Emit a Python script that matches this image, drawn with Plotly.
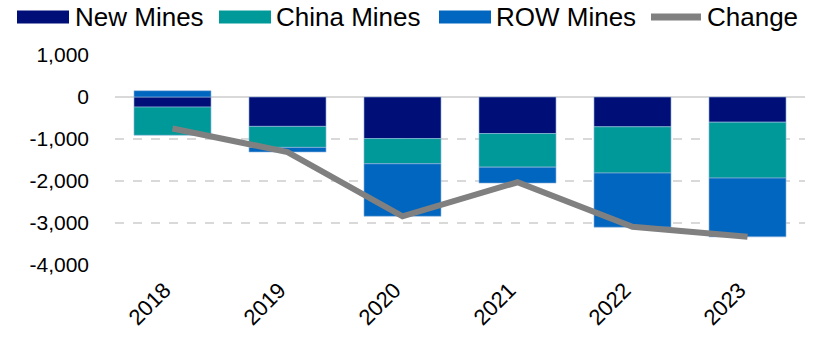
import plotly.graph_objects as go

years = ["2018", "2019", "2020", "2021", "2022", "2023"]
new_mines = [-240, -700, -990, -870, -710, -600]
china_mines = [-670, -500, -600, -800, -1100, -1330]
row_mines = [150, -110, -1250, -380, -1290, -1400]
change = [-750, -1310, -2840, -2030, -3090, -3330]

y_tickvals = [-4000, -3000, -2000, -1000, 0, 1000]
y_ticktext = ["-4,000", "-3,000", "-2,000", "-1,000", "0", "1,000"]

series_names = ["New Mines", "China Mines", "ROW Mines", "Change"]
colors = ["#000F78", "#009999", "#0066BF", "#808080"]

W, H = 815, 343
L, T = 115, 55
R = W - 805
B = H - 264.7
pw, ph = W - L - R, H - T - B

fig = go.Figure()
for name, vals, col in zip(series_names[:3], [new_mines, china_mines, row_mines], colors[:3]):
    fig.add_trace(go.Bar(x=years, y=vals, name=name, marker=dict(color=col, line=dict(color="#9ab8de", width=0.6)),
                         showlegend=False))
fig.add_trace(go.Scatter(x=years, y=change, name="Change", mode="lines",
                         line=dict(color=colors[3], width=6), showlegend=False))

def px_x(px):
    return (px - L) / pw

def px_y(py):
    return (H - B - py) / ph

shapes = []
annotations = []
legend_items = [(17, 75), (219, 276), (439, 496), (648, 707)]
for i, (sx, tx) in enumerate(legend_items):
    if i < 3:
        shapes.append(dict(type="rect", xref="paper", yref="paper",
                           x0=px_x(sx), x1=px_x(sx + 52), y0=px_y(23.5), y1=px_y(10.5),
                           fillcolor=colors[i], line=dict(width=0)))
    else:
        shapes.append(dict(type="line", xref="paper", yref="paper",
                           x0=px_x(sx + 3), x1=px_x(sx + 53), y0=px_y(17), y1=px_y(17),
                           line=dict(color=colors[i], width=7)))
    annotations.append(dict(text=series_names[i], xref="paper", yref="paper",
                            x=px_x(tx), y=px_y(17.5), xanchor="left", yanchor="middle",
                            showarrow=False, xshift=-2,
                            font=dict(size=26, color="#000000", family="Liberation Sans, Arial, sans-serif")))

fig.update_layout(
    width=W, height=H,
    margin=dict(l=L, r=R, t=T, b=B, pad=0),
    barmode="relative",
    bargap=0.33,
    plot_bgcolor="white", paper_bgcolor="white",
    font=dict(family="Liberation Sans, Arial, sans-serif", color="#000000"),
    shapes=shapes,
    annotations=annotations,
    xaxis=dict(tickangle=-45, tickfont=dict(size=22), showgrid=False, showline=False,
               ticks="", ticklabelstandoff=7, ticklabelshift=-8, automargin=False),
    yaxis=dict(range=[-4000, 1000], tickvals=y_tickvals, ticktext=y_ticktext, tickfont=dict(size=21),
               showgrid=True, gridcolor="#d9d9d9", griddash="dash", gridwidth=1.5,
               zeroline=True, zerolinecolor="#d9d9d9", zerolinewidth=2,
               ticks="", ticklabelstandoff=25, showline=False, automargin=False),
)

fig.write_html("out.html", config={"displayModeBar": False},
               post_script="document.body.style.margin='0';")
